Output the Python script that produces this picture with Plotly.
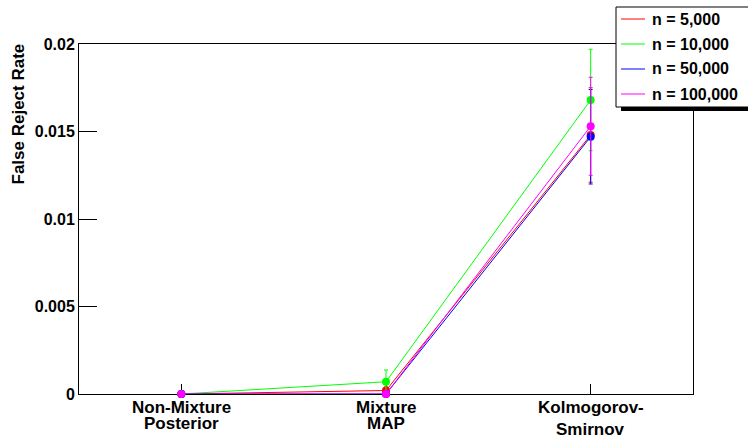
import plotly.graph_objects as go

# ---------------- data ----------------
categories = ["Non-Mixture Posterior", "Mixture MAP", "Kolmogorov-Smirnov"]
label_line1 = ["Non-Mixture", "Mixture", "Kolmogorov-"]
label_line2 = ["Posterior", "MAP", "Smirnov"]

series_names = ["n = 5,000", "n = 10,000", "n = 50,000", "n = 100,000"]
rate_n5000 = [0.0, 0.0002, 0.0148]
err_n5000 = [0.0, 0.0002, 0.0027]
rate_n10000 = [0.0, 0.0007, 0.0168]
err_n10000 = [0.0, 0.00067, 0.0029]
rate_n50000 = [0.0, 0.0, 0.0147]
err_n50000 = [0.0, 0.0, 0.0027]
rate_n100000 = [0.0, 0.0, 0.0153]
err_n100000 = [0.0, 0.0, 0.0028]

y_tickvals = [0, 0.005, 0.01, 0.015, 0.02]
y_ticktext = ["0", "0.005", "0.01", "0.015", "0.02"]

colors = ["#ff0000", "#00ff00", "#0000ff", "#ff00ff"]
rates = [rate_n5000, rate_n10000, rate_n50000, rate_n100000]
errs = [err_n5000, err_n10000, err_n50000, err_n100000]

# ---------------- layout geometry (pixels) ----------------
W, H = 748, 439
L, R, T, B = 79, 55, 44, 45
pw, ph = W - L - R, H - T - B

def px_x(x):
    return (x - L) / pw

def px_y(y):
    return (H - B - y) / ph

FONT = "Liberation Sans, Arial, Helvetica, sans-serif"

fig = go.Figure()

for name, c, r, e in zip(series_names, colors, rates, errs):
    fig.add_trace(go.Scatter(
        x=categories, y=r, mode="lines+markers", name=name,
        line=dict(color=c, width=1),
        marker=dict(color=c, size=8, symbol="circle"),
        error_y=dict(type="data", array=e, visible=True, color=c,
                     thickness=1, width=2),
        cliponaxis=False, showlegend=False,
    ))

shapes = []
annotations = []

# ---- legend box (ROOT style, with shadow) ----
LEG_L, LEG_T, LEG_B, LEG_R = 616, 7, 107, 800
ROW0, ROW_STEP = 19, 25
shapes.append(dict(type="rect", xref="paper", yref="paper",
                   x0=px_x(LEG_L + 5), x1=px_x(LEG_R + 5),
                   y0=px_y(LEG_B + 4), y1=px_y(LEG_T + 4),
                   fillcolor="black", line=dict(width=0), layer="above"))
shapes.append(dict(type="rect", xref="paper", yref="paper",
                   x0=px_x(LEG_L), x1=px_x(LEG_R),
                   y0=px_y(LEG_B), y1=px_y(LEG_T),
                   fillcolor="white", line=dict(color="black", width=1),
                   layer="above"))
for i, (name, c) in enumerate(zip(series_names, colors)):
    yy = ROW0 + i * ROW_STEP
    shapes.append(dict(type="line", xref="paper", yref="paper",
                       x0=px_x(621), x1=px_x(645), y0=px_y(yy), y1=px_y(yy),
                       line=dict(color=c, width=1), layer="above"))
    annotations.append(dict(x=px_x(650), xref="paper", y=px_y(yy), yref="paper",
                            text=name, showarrow=False, xanchor="left",
                            yanchor="middle",
                            font=dict(family=FONT, size=16, color="black",
                                      weight="bold")))

# ---- category labels (two lines each) ----
for cat, l1, l2 in zip(categories, label_line1, label_line2):
    low = 5 if "Kolmogorov" in cat else 0
    annotations.append(dict(x=cat, xref="x", y=px_y(407), yref="paper",
                            text=l1, showarrow=False, xanchor="center",
                            yanchor="middle",
                            font=dict(family=FONT, size=17, color="black", weight="bold")))
    annotations.append(dict(x=cat, xref="x", y=px_y(424 + low), yref="paper",
                            text=l2, showarrow=False, xanchor="center",
                            yanchor="middle",
                            font=dict(family=FONT, size=17, color="black", weight="bold")))

# ---- y axis title ----
annotations.append(dict(x=px_x(18), xref="paper", y=px_y(42), yref="paper",
                        text="False Reject Rate", textangle=-90, showarrow=False,
                        xanchor="center", yanchor="top",
                        font=dict(family=FONT, size=17, color="black", weight="bold")))

fig.update_layout(
    width=W, height=H,
    margin=dict(l=L, r=R, t=T, b=B, autoexpand=False),
    paper_bgcolor="white", plot_bgcolor="white",
    font=dict(family=FONT, color="black"),
    xaxis=dict(type="category", range=[-0.5, 2.5], showline=True, mirror=True,
               linecolor="black", linewidth=1, ticks="inside", ticklen=10,
               tickcolor="black", tickwidth=1, showticklabels=False,
               showgrid=False, zeroline=False, fixedrange=True,
               layer="below traces"),
    yaxis=dict(range=[0, 0.02], showline=True, mirror=True, linecolor="black",
               linewidth=1, ticks="inside", ticklen=18, tickcolor="black",
               tickwidth=1, tickvals=y_tickvals, ticktext=y_ticktext,
               tickfont=dict(family=FONT, size=16, color="black", weight="bold"),
               showgrid=False, zeroline=False, fixedrange=True,
               layer="below traces"),
    shapes=shapes,
    annotations=annotations,
    showlegend=False,
)

fig.write_html("out.html",
               config={"displayModeBar": False, "staticPlot": True},
               post_script="document.body.style.margin='0';"
                           "document.body.style.overflow='hidden';")
